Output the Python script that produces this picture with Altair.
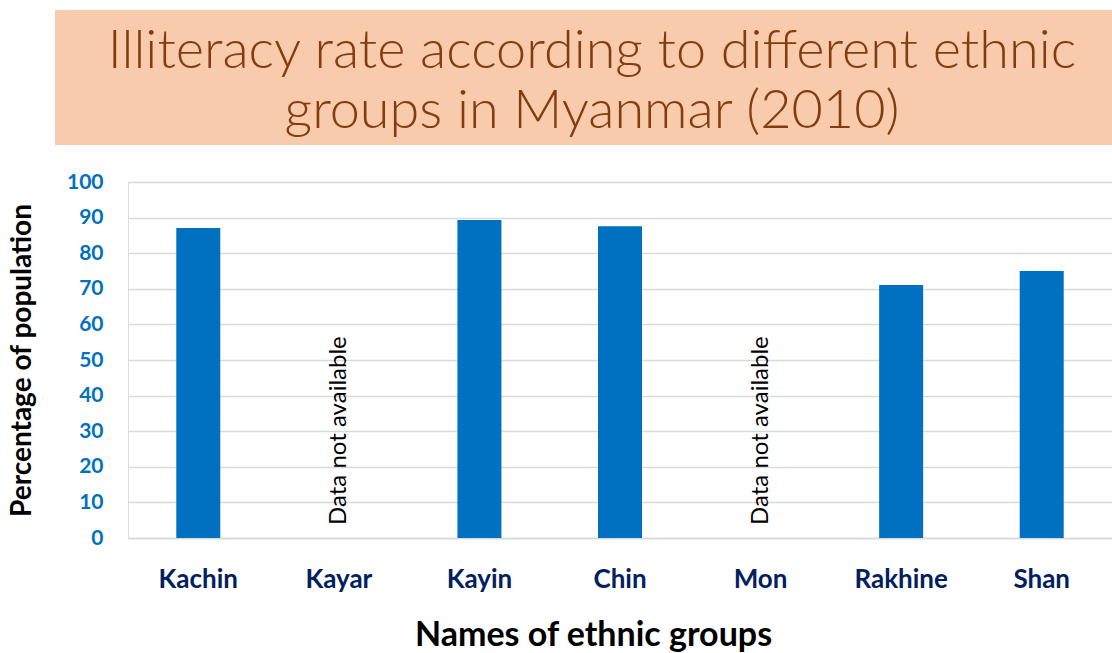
import altair as alt
import pandas as pd

groups = ["Kachin", "Kayar", "Kayin", "Chin", "Mon", "Rakhine", "Shan"]
rates = [87.1, None, 89.3, 87.6, None, 71.1, 75.0]
notes = ["", "Data not available", "", "", "Data not available", "", ""]
title_lines = ["Illiteracy rate according to different ethnic", "groups in Myanmar (2010)"]

df = pd.DataFrame({"group": groups, "rate": rates, "note": notes})
note_df = df[df["note"] != ""]

W, H = 984, 356

x_enc = alt.X(
    "group:N", sort=groups,
    scale=alt.Scale(paddingInner=0, paddingOuter=0),
    axis=alt.Axis(
        title="Names of ethnic groups", labelAngle=0,
        labelFont="Lato", labelFontWeight="bold", labelFontSize=26, labelColor="#002060",
        labelPadding=28, tickSize=0, domainColor="#D9D9D9", domainWidth=1.5,
        titleFont="Lato", titleFontWeight="bold", titleFontSize=34, titleColor="#000000",
        titlePadding=26, titleX=465, grid=False,
    ),
)

y_scale = alt.Scale(domain=[0, 100], nice=False)
y_axis = alt.Axis(
    title="Percentage of population", values=list(range(0, 101, 10)),
    labelFont="Lato", labelFontWeight="bold", labelFontSize=21, labelColor="#0070C0",
    labelPadding=25, tickSize=0, domain=False,
    gridColor="#D9D9D9", gridWidth=1.5,
    titleFont="Lato", titleFontWeight="bold", titleFontSize=28, titleColor="#000000",
    titlePadding=30,
)

bars = alt.Chart(df).mark_bar(size=44, color="#0070C0").encode(
    x=x_enc, y=alt.Y("rate:Q", scale=y_scale, axis=y_axis)
)

note_text = alt.Chart(note_df).mark_text(
    angle=270, align="left", baseline="middle", font="Lato", fontSize=24, color="#000000", dx=13
).encode(
    x=alt.X("group:N", sort=groups),
    y=alt.YDatum(0, scale=y_scale, axis=y_axis),
    text="note:N",
)

title_bg = alt.Chart(pd.DataFrame({"k": [0]})).mark_rect(color="#F8CBAD", clip=False).encode(
    x=alt.value(-73), x2=alt.value(W + 10), y=alt.value(-172), y2=alt.value(-37)
)

title_df = pd.DataFrame({"line": title_lines})
title_base = alt.Chart(title_df).mark_text(
    font="Lato", fontWeight=300, fontSize=54, color="#843C0C", align="center", baseline="alphabetic"
)
title1 = title_base.transform_filter(alt.datum.line == title_lines[0]).encode(
    x=alt.value(464), y=alt.value(-114), text="line:N"
)
title2 = title_base.transform_filter(alt.datum.line == title_lines[1]).encode(
    x=alt.value(464), y=alt.value(-54), text="line:N"
)

chart = alt.layer(bars, note_text, title_bg, title1, title2).properties(
    width=W, height=H,
    autosize=alt.AutoSizeParams(type="none"),
    padding={"left": 128, "top": 182, "right": 0, "bottom": 115},
).configure_view(stroke=None).configure(background="white")

chart.save("out.html", embed_options={"renderer": "svg", "actions": False})
